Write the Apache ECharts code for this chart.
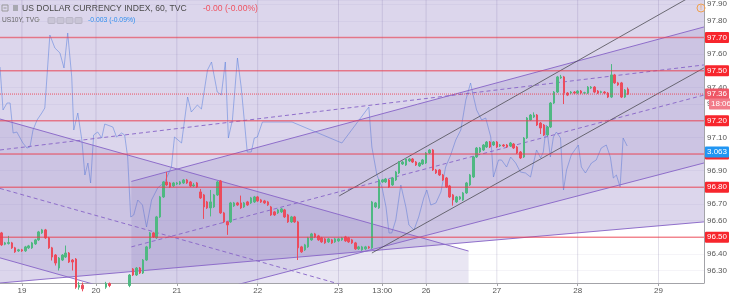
<!DOCTYPE html>
<html><head><meta charset="utf-8">
<script src="https://cdn.jsdelivr.net/npm/echarts@6/dist/echarts.min.js"></script>
<style>html,body{margin:0;padding:0;background:#fff}#c{width:730px;height:297px}</style>
</head><body><div id="c"></div><script>
// ---- Data (hourly bars, index = bar number) ----
const dayTicks  = [6, 28, 52, 76, 100, 113, 126, 147, 171, 195];
const dayLabels = ['19', '20', '21', '22', '23', '13:00', '26', '27', '28', '29'];

// DXY candles: [open, close, low, high]
const candles = [
[96.526,96.454,96.448,96.532],[96.458,96.466,96.452,96.472],[96.462,96.468,96.456,96.508],[96.466,96.436,96.430,96.472],
[96.436,96.412,96.406,96.442],[96.418,96.424,96.412,96.430],[96.424,96.418,96.412,96.430],[96.418,96.442,96.412,96.448],
[96.436,96.448,96.430,96.454],[96.436,96.466,96.430,96.472],[96.460,96.484,96.454,96.490],[96.484,96.532,96.478,96.538],
[96.526,96.544,96.520,96.550],[96.544,96.496,96.490,96.550],[96.496,96.436,96.430,96.502],[96.436,96.381,96.360,96.442],
[96.393,96.345,96.330,96.399],[96.315,96.375,96.300,96.381],[96.363,96.393,96.357,96.399],[96.381,96.405,96.375,96.450],
[96.405,96.351,96.345,96.411],[96.363,96.351,96.300,96.369],[96.369,96.200,96.190,96.375],[96.200,96.212,96.185,96.232],
[96.212,96.190,96.175,96.228],[96.190,96.180,96.165,96.200],[96.180,96.170,96.150,96.190],[96.170,96.180,96.160,96.190],
[96.180,96.190,96.170,96.200],[96.190,96.180,96.170,96.200],[96.180,96.200,96.170,96.210],[96.200,96.222,96.190,96.232],
[96.222,96.210,96.200,96.228],[96.210,96.200,96.190,96.215],[96.200,96.190,96.180,96.210],[96.190,96.200,96.180,96.210],
[96.200,96.190,96.180,96.210],[96.190,96.210,96.180,96.220],[96.210,96.273,96.200,96.279],[96.309,96.273,96.267,96.315],
[96.273,96.315,96.267,96.321],[96.315,96.285,96.279,96.321],[96.285,96.363,96.279,96.369],[96.363,96.442,96.357,96.448],
[96.436,96.526,96.430,96.532],[96.526,96.502,96.496,96.532],[96.496,96.622,96.490,96.628],[96.622,96.742,96.616,96.748],
[96.742,96.832,96.736,96.838],[96.832,96.814,96.808,96.892],[96.826,96.802,96.796,96.832],[96.808,96.826,96.802,96.832],
[96.820,96.826,96.814,96.832],[96.820,96.832,96.814,96.838],[96.826,96.844,96.820,96.850],[96.844,96.826,96.820,96.850],
[96.832,96.808,96.802,96.838],[96.808,96.814,96.802,96.826],[96.826,96.802,96.796,96.832],[96.772,96.736,96.730,96.790],
[96.754,96.682,96.610,96.760],[96.712,96.676,96.670,96.718],[96.676,96.712,96.625,96.784],[96.682,96.754,96.676,96.760],
[96.754,96.832,96.748,96.838],[96.838,96.646,96.640,96.844],[96.646,96.592,96.586,96.652],[96.592,96.574,96.514,96.598],
[96.592,96.706,96.586,96.712],[96.688,96.706,96.682,96.712],[96.706,96.694,96.688,96.712],[96.706,96.676,96.670,96.750],
[96.682,96.706,96.676,96.712],[96.712,96.694,96.688,96.718],[96.706,96.736,96.700,96.742],[96.712,96.742,96.706,96.748],
[96.742,96.718,96.712,96.748],[96.724,96.712,96.706,96.730],[96.718,96.706,96.700,96.724],[96.712,96.694,96.688,96.718],
[96.682,96.634,96.628,96.688],[96.652,96.634,96.628,96.658],[96.646,96.664,96.640,96.670],[96.652,96.670,96.646,96.676],
[96.664,96.622,96.616,96.670],[96.634,96.592,96.586,96.640],[96.592,96.622,96.586,96.628],[96.622,96.592,96.586,96.628],
[96.592,96.436,96.363,96.598],[96.442,96.412,96.406,96.448],[96.424,96.454,96.418,96.460],[96.442,96.496,96.436,96.502],
[96.484,96.520,96.478,96.526],[96.520,96.502,96.496,96.526],[96.508,96.484,96.478,96.514],[96.496,96.472,96.466,96.502],
[96.490,96.466,96.460,96.496],[96.472,96.490,96.466,96.496],[96.484,96.466,96.460,96.490],[96.472,96.490,96.466,96.496],
[96.478,96.490,96.472,96.496],[96.484,96.496,96.478,96.502],[96.502,96.478,96.472,96.508],[96.496,96.472,96.466,96.502],
[96.484,96.466,96.460,96.490],[96.466,96.430,96.424,96.472],[96.430,96.442,96.424,96.448],[96.424,96.442,96.418,96.448],
[96.430,96.442,96.424,96.448],[96.442,96.436,96.430,96.448],[96.436,96.712,96.430,96.718],[96.682,96.706,96.676,96.712],
[96.676,96.844,96.670,96.850],[96.832,96.844,96.826,96.850],[96.832,96.850,96.826,96.856],[96.844,96.802,96.796,96.850],
[96.814,96.856,96.808,96.862],[96.844,96.892,96.838,96.898],[96.886,96.952,96.880,96.958],[96.940,96.952,96.934,96.958],
[96.934,96.970,96.928,96.976],[96.958,96.970,96.952,96.976],[96.970,96.952,96.946,96.976],[96.952,96.934,96.928,96.958],
[96.928,96.946,96.922,96.952],[96.940,96.964,96.934,96.970],[96.946,97.006,96.940,97.012],[97.006,97.024,97.000,97.030],
[97.024,96.904,96.898,97.030],[96.904,96.886,96.880,96.910],[96.904,96.874,96.868,96.910],[96.874,96.844,96.838,96.880],
[96.856,96.802,96.796,96.862],[96.808,96.742,96.736,96.814],[96.754,96.724,96.690,96.760],[96.712,96.742,96.706,96.748],
[96.730,96.742,96.724,96.748],[96.724,96.766,96.718,96.772],[96.766,96.826,96.760,96.832],[96.814,96.874,96.808,96.880],
[96.862,96.982,96.856,96.988],[96.982,97.036,96.976,97.042],[97.012,97.036,97.006,97.042],[97.024,97.054,97.018,97.060],
[97.042,97.072,97.036,97.078],[97.072,97.042,97.036,97.078],[97.054,97.072,97.048,97.078],[97.072,97.042,97.036,97.078],
[97.048,97.054,97.042,97.060],[97.054,97.048,97.042,97.060],[97.054,97.042,97.036,97.060],[97.048,97.066,97.042,97.072],
[97.060,97.036,97.030,97.066],[97.042,97.006,97.000,97.048],[97.012,96.976,96.970,97.018],[96.982,97.096,96.976,97.102],
[97.096,97.216,97.090,97.222],[97.204,97.234,97.198,97.240],[97.222,97.234,97.216,97.250],[97.234,97.174,97.168,97.240],
[97.186,97.156,97.120,97.192],[97.174,97.114,97.108,97.180],[97.114,97.162,97.108,97.168],[97.162,97.306,97.156,97.312],
[97.306,97.372,97.300,97.378],[97.372,97.463,97.366,97.469],[97.457,97.463,97.451,97.475],[97.463,97.366,97.300,97.469],
[97.366,97.354,97.348,97.372],[97.366,97.372,97.360,97.378],[97.372,97.366,97.360,97.378],[97.366,97.378,97.360,97.384],
[97.378,97.366,97.360,97.384],[97.366,97.368,97.360,97.374],[97.366,97.402,97.360,97.408],[97.396,97.402,97.390,97.408],
[97.402,97.372,97.366,97.408],[97.378,97.366,97.360,97.384],[97.370,97.374,97.364,97.380],[97.372,97.366,97.360,97.378],
[97.366,97.342,97.336,97.372],[97.342,97.475,97.336,97.540],[97.475,97.427,97.421,97.481],[97.427,97.415,97.409,97.433],
[97.427,97.342,97.336,97.433],[97.342,97.384,97.336,97.390],[97.390,97.360,97.354,97.400]
];

// US10Y overlay: [bar, yield]
const us10y = [
[-0.5,3.1025],[0.4,3.081],[1.6,3.0845],[2.5,3.0845],[3.4,3.0695],[4.5,3.070],[6.3,3.0645],[7.5,3.062],[8.4,3.0625],
[9.3,3.071],[10.5,3.076],[11.9,3.0795],[12.8,3.082],[14.3,3.1185],[15.8,3.112],[17.3,3.1095],[18.5,3.102],[19.6,3.1195],
[20.8,3.0975],[21.4,3.071],[22.6,3.0795],[23.8,3.066],[24.7,3.0485],[25.6,3.0545],[26.4,3.0445],[27.3,3.0685],[28.5,3.070],
[29.7,3.067],[30.6,3.074],[33.0,3.0725],[34.1,3.0675],[35.6,3.0695],[36.5,3.0685],[37.4,3.0575],[38.3,3.0275],[39.2,3.0285],
[40.4,3.036],[41.8,3.0335],[43.0,3.0225],[44.5,3.036],[46.3,3.042],[48.4,3.045],[50.4,3.0525],[51.3,3.0675],[53.4,3.0645],
[55.2,3.0875],[56.3,3.080],[58.1,3.0835],[59.3,3.0815],[61.1,3.101],[62.3,3.105],[64.0,3.090],[65.2,3.0885],[66.4,3.105],
[67.3,3.067],[68.5,3.076],[70.0,3.107],[71.1,3.0925],[72.9,3.060],[74.1,3.060],[75.0,3.067],[75.9,3.0675],[77.4,3.075],
[86.2,3.075],[101.0,3.0645],[109.0,3.0825],[109.9,3.0625],[111.4,3.0485],[112.9,3.0425],[114.1,3.0325],[115.0,3.0195],
[115.8,3.0195],[117.0,3.026],[118.5,3.0435],[120.0,3.0325],[120.9,3.0235],[122.4,3.021],[123.8,3.0275],[125.3,3.037],
[126.2,3.041],[127.4,3.0335],[128.9,3.0345],[130.4,3.040],[131.8,3.0525],[133.3,3.0585],[134.8,3.066],[136.3,3.071],
[137.8,3.086],[139.2,3.0945],[140.1,3.0875],[141.0,3.081],[142.5,3.076],[143.7,3.077],[145.2,3.0675],[146.0,3.0475],
[147.5,3.056],[148.4,3.056],[149.9,3.0525],[151.1,3.0575],[152.6,3.0545],[154.0,3.050],[155.5,3.0495],[157.0,3.0475],
[157.9,3.0545],[158.8,3.061],[160.0,3.057],[160.8,3.060],[161.7,3.0735],[162.9,3.0575],[163.8,3.0675],[164.7,3.070],
[165.9,3.067],[166.8,3.041],[167.7,3.051],[169.1,3.0585],[171.2,3.0635],[172.1,3.0525],[173.3,3.0495],[175.1,3.0545],
[176.5,3.056],[178.0,3.062],[179.5,3.0635],[180.7,3.0575],[181.6,3.047],[182.5,3.0485],[183.6,3.0425],[184.5,3.067],[185.7,3.063]
];

const priceLevels = [97.70, 97.50, 97.20, 97.00, 96.80, 96.50];
const lastPrice = 97.36;
const countdownLevel = 97.30;
const countdownText = '18:06';
const lastYield = 3.063;
const xSpan = [-0.5, 208.5];
const ySpan = [96.225, 97.925];

// Drawn trend lines / channels: [bar, price]
const lineA = [[-0.5,97.210],[138.6,96.417]];
const lineB = [[-0.5,96.376],[138.6,95.583]];
const lineC = [[-0.5,96.793],[138.6,96.000]];
const lineD = [[-0.5,96.225],[208.5,96.592]];
const lineE = [[38.5,96.835],[208.5,97.763]];
const lineF = [[38.5,96.049],[208.5,96.946]];
const lineH = [[38.5,96.442],[208.5,97.354]];
const lineI = [[-0.5,97.024],[208.5,97.535]];
const lineJ = [[100.2,96.748],[208.5,97.990]];
const lineK = [[109.9,96.405],[208.5,97.517]];
const zoneWide = [[-0.5,98.2],[208.5,98.2],[208.5,96.592],[-0.5,96.225]];
const zoneDesc = [[-0.5,97.210],[138.6,96.417],[138.6,95.583],[-0.5,96.376]];
const zoneAsc  = [[38.5,96.835],[208.5,97.763],[208.5,96.946],[38.5,96.049]];

// ---- Chart ----
const FONT = '"Liberation Sans", Arial, sans-serif';
const PURPLE = 'rgba(138,104,200,0.95)';
const FILL = 'rgba(126,104,186,';
function poly(pts, color, z){
  return {type:'custom', coordinateSystem:'cartesian2d', clip:true, silent:true, z:z, animation:false,
    encode:{x:0, y:1}, data:[pts[0]],
    renderItem:(p, api)=>({type:'polygon', shape:{points: pts.map(q=>api.coord(q))}, style:{fill:color}})};
}
function seg(pts, color, type, z, width){
  return {type:'line', data:pts, symbol:'none', silent:true, animation:false, z:z,
    lineStyle:{color:color, width:width||1, type:type}};
}
function badge(bg, dist){
  return {show:true, position:'end', distance:dist, color:'#fff', backgroundColor:bg,
    fontSize:8, fontFamily:FONT, padding:[2,2,1,2], borderRadius:1};
}
function badgeSeries(values, texts, bg, dist, z, yIdx){
  return {type:'line', data:[], yAxisIndex:yIdx||0, z:z, silent:true,
    markLine:{silent:true, symbol:['none','none'], animation:false,
      lineStyle:{color:'rgba(0,0,0,0)', width:0}, label:badge(bg, dist),
      data: values.map((v,i)=>({yAxis:v, label:{formatter:texts[i]}}))}};
}

const gridLines = dayTicks.map(t => seg([[t, ySpan[0]], [t, ySpan[1]]], 'rgba(110,100,150,0.2)', 'solid', 1));
const levelLines = priceLevels.map(v =>
  seg([[xSpan[0], v], [xSpan[1], v]], 'rgba(238,60,74,0.6)', 'solid', 6, 1.5));

const chart = echarts.init(document.getElementById('c'));
chart.setOption({
  animation:false,
  backgroundColor:'#ffffff',
  grid:{left:0, right:24, top:0, bottom:14, containLabel:false},
  xAxis:{type:'value', min:xSpan[0], max:xSpan[1],
    axisLine:{show:true, onZero:false, lineStyle:{color:'#a3a3a8'}},
    axisTick:{show:true, length:3, customValues:dayTicks, lineStyle:{color:'#a3a3a8'}},
    axisLabel:{customValues:dayTicks, formatter:v=>dayLabels[dayTicks.indexOf(v)] || '', fontSize:8, color:'#555', fontFamily:FONT, margin:4},
    splitLine:{show:false}},
  yAxis:[
    {type:'value', position:'right', min:ySpan[0], max:ySpan[1], splitNumber:17,
     axisLine:{show:true, onZero:false, lineStyle:{color:'#a3a3a8'}},
     axisTick:{show:false},
     axisLabel:{fontSize:8, color:'#555', fontFamily:FONT, margin:3, showMinLabel:false, showMaxLabel:false, formatter:v=>v.toFixed(2)},
     splitLine:{show:true, lineStyle:{color:'rgba(110,100,150,0.07)'}}},
    {type:'value', show:false, min:2.9945, max:3.136, splitLine:{show:false}}
  ],
  graphic:[
    {type:'rect', z:100, shape:{x:2, y:5, width:6, height:6}, style:{fill:'none', stroke:'#9a9a9a', lineWidth:1}},
    {type:'rect', z:100, shape:{x:3.5, y:7.5, width:3, height:1}, style:{fill:'#9a9a9a'}},
    {type:'rect', z:100, shape:{x:13, y:5, width:5, height:6}, style:{fill:'#a8a8b0'}},
    {type:'text', z:100, x:22, y:8.5, style:{text:'US DOLLAR CURRENCY INDEX, 60, TVC', fontSize:8.6, fontFamily:FONT, fill:'#4a4a4a', verticalAlign:'middle'}},
    {type:'text', z:100, x:203, y:8.5, style:{text:'-0.00 (-0.00%)', fontSize:8.6, fontFamily:FONT, fill:'#ef5361', verticalAlign:'middle'}},
    {type:'text', z:100, x:2, y:20.5, style:{text:'US10Y, TVC', fontSize:6.6, fontFamily:FONT, fill:'#666', verticalAlign:'middle'}},
    {type:'text', z:100, x:37, y:20.5, style:{text:'▾', fontSize:6, fontFamily:'DejaVu Sans', fill:'#aaa', verticalAlign:'middle'}},
    {type:'rect', z:100, shape:{x:48, y:17.5, width:7, height:6, r:1}, style:{fill:'#c9c5d6', stroke:'#b9b5c6'}},
    {type:'rect', z:100, shape:{x:57, y:17.5, width:7, height:6, r:1}, style:{fill:'#c9c5d6', stroke:'#b9b5c6'}},
    {type:'rect', z:100, shape:{x:66, y:17.5, width:7, height:6, r:1}, style:{fill:'#c9c5d6', stroke:'#b9b5c6'}},
    {type:'rect', z:100, shape:{x:75, y:17.5, width:7, height:6, r:1}, style:{fill:'#c9c5d6', stroke:'#b9b5c6'}},
    {type:'text', z:100, x:88, y:20.5, style:{text:'-0.003 (-0.09%)', fontSize:6.8, fontFamily:FONT, fill:'#2f8ff0', verticalAlign:'middle'}},
    {type:'circle', z:100, shape:{cx:701, cy:8, r:4}, style:{fill:'none', stroke:'#f0a050', lineWidth:1}},
    {type:'text', z:100, x:701, y:8.5, style:{text:'!', fontSize:7, fontFamily:FONT, fill:'#f0a050', align:'center', verticalAlign:'middle'}}
  ],
  series: gridLines.concat([
    // US10Y line (under drawings)
    {type:'line', yAxisIndex:1, data:us10y, symbol:'none', silent:true, z:1,
     lineStyle:{color:'rgba(80,140,235,0.55)', width:1}},
    poly(zoneWide, FILL+'0.27)', 2),
    poly(zoneDesc, FILL+'0.17)', 2),
    poly(zoneAsc,  FILL+'0.17)', 2),
    seg(lineA, PURPLE, 'solid', 3), seg(lineB, PURPLE, 'solid', 3), seg(lineC, PURPLE, [4,3], 3),
    seg(lineD, PURPLE, 'solid', 3), seg(lineE, PURPLE, 'solid', 3), seg(lineF, PURPLE, 'solid', 3),
    seg(lineH, PURPLE, [4,3], 3), seg(lineI, PURPLE, [4,3], 3),
    seg(lineJ, 'rgba(70,70,75,0.75)', 'solid', 3), seg(lineK, 'rgba(70,70,75,0.75)', 'solid', 3),
    {type:'candlestick', data:candles.map((c,i)=>[i, c[0], c[1], c[2], c[3]]), encode:{x:0, y:[1,2,3,4]},
     barWidth:2, z:5, clip:true, silent:true,
     itemStyle:{color:'#4fb882', color0:'#ec4c5d', borderColor:'#4fb882', borderColor0:'#ec4c5d', borderWidth:1}}
  ]).concat(levelLines).concat([
    seg([[xSpan[0], lastPrice], [xSpan[1], lastPrice]], 'rgba(238,60,74,0.85)', 'dotted', 7),
    badgeSeries(priceLevels, priceLevels.map(v=>v.toFixed(2)), '#f7262d', 1, 8),
    badgeSeries([lastPrice], [lastPrice.toFixed(2)], '#ee5766', 1, 8),
    badgeSeries([countdownLevel], [countdownText], '#f27c8a', 5, 8),
    badgeSeries([lastYield], [lastYield.toFixed(3)], '#2196f3', 1, 8, 1)
  ])
});
</script></body></html>
